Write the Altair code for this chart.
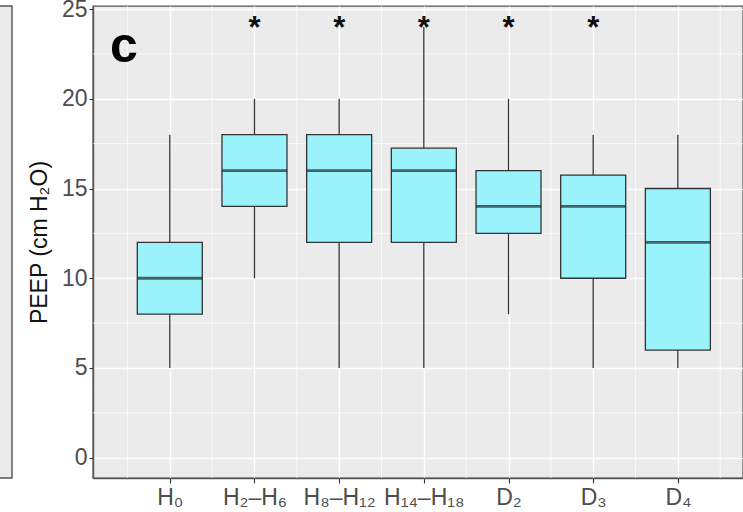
import altair as alt
import pandas as pd
import json

# ---- data ----
labels = ["H₀", "H₂–H₆", "H₈–H₁₂", "H₁₄–H₁₈", "D₂", "D₃", "D₄"]
positions = [1, 2, 3, 4, 5, 6, 7]
lower = [5, 10, 5, 5, 8, 5, 5]
q1 = [8, 14, 12, 12, 12.5, 10, 6]
median = [10, 16, 16, 16, 14, 14, 12]
q3 = [12, 18, 18, 17.25, 16, 15.75, 15]
upper = [18, 20, 20, 24, 20, 18, 18]
signif = ["", "*", "*", "*", "*", "*", ""]

y_major = [0, 5, 10, 15, 20, 25]
y_minor = [2.5, 7.5, 12.5, 17.5, 22.5]
x_minor = [0.5, 1.5, 2.5, 3.5, 4.5, 5.5, 6.5, 7.5]

df = pd.DataFrame({"pos": positions, "label": labels, "lower": lower, "q1": q1,
                   "median": median, "q3": q3, "upper": upper, "sig": signif})
df_sig = df[df["sig"] != ""].copy()
df_sig["ystar"] = 23.4

FONT = "Liberation Sans"
xs = alt.Scale(domain=[0.152, 7.71], nice=False, zero=False)
ys = alt.Scale(domain=[-1.13, 25.17], nice=False, zero=False)

label_expr = "[" + ",".join(['""'] + [json.dumps(l) for l in labels]) + "][datum.value]"

x_axis = alt.Axis(values=positions, labelExpr=label_expr, title=None,
                  grid=True, gridColor="white", gridWidth=1.4,
                  domain=True, domainColor="#555555", domainWidth=1.4,
                  ticks=True, tickColor="#333333", tickSize=5, tickWidth=1.1,
                  labelFont=FONT, labelFontSize=23, labelColor="#4D4D4D",
                  labelPadding=3, labelFlush=False, labelOverlap=False)
y_axis = alt.Axis(values=y_major, title="PEEP (cm H₂O)",
                  grid=True, gridColor="white", gridWidth=1.4,
                  domain=True, domainColor="#555555", domainWidth=1.4,
                  ticks=True, tickColor="#333333", tickSize=4, tickWidth=1.1,
                  labelFont=FONT, labelFontSize=23, labelColor="#4D4D4D",
                  labelPadding=2,
                  titleFont=FONT, titleFontSize=23, titleFontWeight="normal",
                  titleColor="#111111", titleAngle=-90, titleX=-47, titleY=236,
                  titleAlign="center", titleBaseline="alphabetic")

minor_y = alt.Chart(pd.DataFrame({"v": y_minor})).mark_rule(
    color="white", strokeWidth=0.7).encode(y=alt.Y("v:Q", scale=ys, axis=y_axis))
minor_x = alt.Chart(pd.DataFrame({"v": x_minor})).mark_rule(
    color="white", strokeWidth=0.7).encode(x=alt.X("v:Q", scale=xs, axis=x_axis))

base = alt.Chart(df)
whisk = base.mark_rule(color="#333333", strokeWidth=1.3).encode(
    x=alt.X("pos:Q", scale=xs, axis=x_axis),
    y=alt.Y("lower:Q", scale=ys, axis=y_axis), y2="upper:Q")
box = base.mark_bar(size=65, fill="#9AF2FB", stroke="#333333", strokeWidth=1.3).encode(
    x=alt.X("pos:Q", scale=xs), y=alt.Y("q1:Q", scale=ys), y2="q3:Q")
med = base.mark_tick(orient="horizontal", size=65, thickness=2.8, color="#1C2629").encode(
    x=alt.X("pos:Q", scale=xs), y=alt.Y("median:Q", scale=ys))
stars = alt.Chart(df_sig).mark_text(font=FONT, fontSize=31, fontWeight="bold",
                                    color="#111111", baseline="alphabetic", align="center").encode(
    x=alt.X("pos:Q", scale=xs), y=alt.Y("ystar:Q", scale=ys), text="sig:N")

one = pd.DataFrame({"t": ["c"]})
letter = alt.Chart(one).mark_text(font=FONT, fontSize=50, fontWeight="bold", color="black",
                                  align="left", baseline="alphabetic").encode(
    x=alt.value(17), y=alt.value(56), text="t:N")
# neighbouring (cropped) panel at the far left
left_panel = alt.Chart(one).mark_rect(fill="#EBEBEB", stroke="#555555", strokeWidth=1.4).encode(
    x=alt.value(-100), x2=alt.value(-81), y=alt.value(0), y2=alt.value(472))

chart = alt.layer(left_panel, minor_y, minor_x, whisk, box, med, stars, letter).properties(
    width=650, height=472,
    autosize=alt.AutoSizeParams(type="none"),
    padding={"left": 93, "top": 6, "right": 0, "bottom": 34},
    background="white",
).configure_view(fill="#EBEBEB", stroke="#555555", strokeWidth=1.4)

chart.save("out.html", embed_options={"renderer": "svg", "actions": False})
